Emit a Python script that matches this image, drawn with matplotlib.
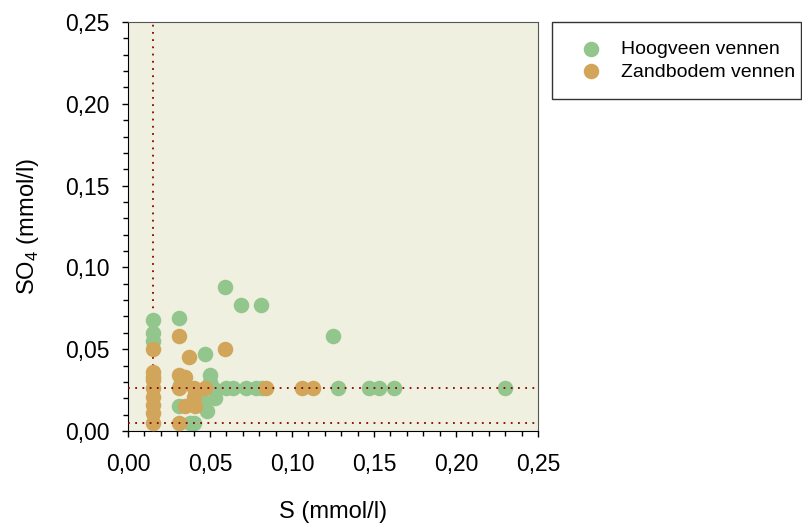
import matplotlib
matplotlib.use("Agg")
import matplotlib.pyplot as plt
from matplotlib.ticker import MultipleLocator, FuncFormatter

plt.rcParams["font.family"] = ["Liberation Sans", "DejaVu Sans"]
plt.rcParams["mathtext.fontset"] = "custom"
plt.rcParams["mathtext.rm"] = "Liberation Sans"

# Hoogveen vennen (S, SO4) in mmol/l
hoog_s = [0.015, 0.015, 0.015, 0.031, 0.059, 0.069, 0.081, 0.125, 0.047, 0.050,
          0.050, 0.031, 0.046, 0.053, 0.048, 0.040, 0.038, 0.032, 0.060, 0.064,
          0.072, 0.078, 0.082, 0.128, 0.147, 0.153, 0.162, 0.230, 0.052, 0.044]
hoog_so4 = [0.068, 0.060, 0.055, 0.069, 0.088, 0.077, 0.077, 0.058, 0.047, 0.034,
            0.030, 0.015, 0.015, 0.020, 0.012, 0.005, 0.005, 0.028, 0.026, 0.026,
            0.026, 0.026, 0.026, 0.026, 0.026, 0.026, 0.026, 0.026, 0.026, 0.020]

# Zandbodem vennen
zand_s = [0.015, 0.015, 0.015, 0.015, 0.015, 0.015, 0.015, 0.015, 0.015, 0.031,
          0.037, 0.059, 0.031, 0.035, 0.031, 0.040, 0.047, 0.040, 0.035, 0.041,
          0.031, 0.084, 0.106, 0.113]
zand_so4 = [0.050, 0.036, 0.031, 0.026, 0.021, 0.016, 0.011, 0.005, 0.033, 0.058,
            0.045, 0.050, 0.034, 0.033, 0.026, 0.026, 0.026, 0.021, 0.015, 0.015,
            0.005, 0.026, 0.026, 0.026]

# reference lines
ref_s = 0.015
ref_so4 = [0.026, 0.005]

green = "#93C68C"
orange = "#D2A65A"
darkred = "#8B0000"

fig = plt.figure(figsize=(8.02, 5.25), dpi=100)
ax = fig.add_axes([128 / 802, 94 / 525, 410 / 802, 409 / 525])
ax.set_facecolor("#F0F0E0")

ax.axvline(ref_s, color=darkred, linestyle=(0, (1, 3)), linewidth=1.3, zorder=1)
for y in ref_so4:
    ax.axhline(y, color=darkred, linestyle=(0, (1, 3)), linewidth=1.3, zorder=4)

ax.scatter(hoog_s, hoog_so4, s=125, color=green, linewidths=0, zorder=2,
           label="Hoogveen vennen")
ax.scatter(zand_s, zand_so4, s=125, color=orange, linewidths=0, zorder=3,
           label="Zandbodem vennen")

ax.set_xlim(0, 0.25)
ax.set_ylim(0, 0.25)
fmt = FuncFormatter(lambda v, p: f"{v:.2f}".replace(".", ","))
for axis in (ax.xaxis, ax.yaxis):
    axis.set_major_locator(MultipleLocator(0.05))
    axis.set_minor_locator(MultipleLocator(0.01))
    axis.set_major_formatter(fmt)
ax.tick_params(which="major", direction="out", length=4.5, width=1, labelsize=16.5)
ax.tick_params(which="minor", direction="out", length=3.5, width=1)
ax.tick_params(axis="x", which="major", pad=11)
ax.tick_params(axis="y", which="major", pad=9)

ax.spines["left"].set_color("black")
ax.spines["bottom"].set_color("black")
ax.spines["top"].set_color("#555555")
ax.spines["right"].set_color("#555555")

ax.set_xlabel("S (mmol/l)", fontsize=17, labelpad=18)
ax.set_ylabel("SO$_\\mathregular{4}$ (mmol/l)", fontsize=17, labelpad=17)

leg = ax.legend(loc="upper left", bbox_to_anchor=(552 / 802, 425 / 525, 249 / 802, 78 / 525),
                bbox_transform=fig.transFigure, mode="expand", fontsize=14,
                frameon=True, fancybox=False, borderpad=0.95, labelspacing=0.25,
                handletextpad=0.5, handlelength=2.1, borderaxespad=0)
leg.get_frame().set_edgecolor("black")
leg.get_frame().set_linewidth(1)

fig.savefig("out.png", dpi=100)
